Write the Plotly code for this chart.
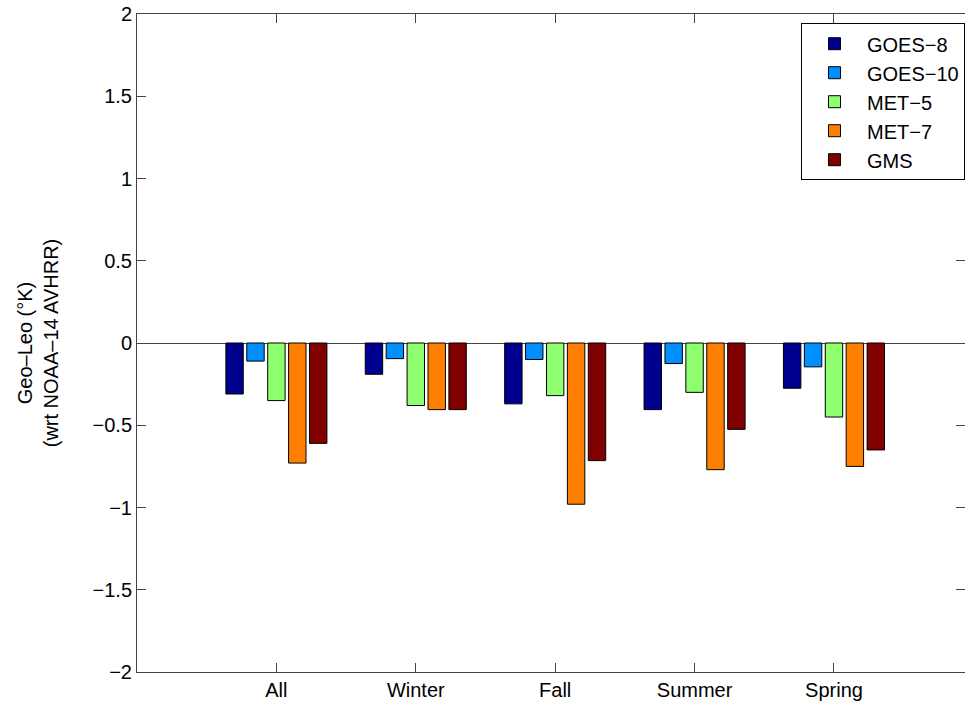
import plotly.graph_objects as go

categories = ["All", "Winter", "Fall", "Summer", "Spring"]
series_names = ["GOES-8", "GOES-10", "MET-5", "MET-7", "GMS"]
goes8 = [-0.31, -0.19, -0.37, -0.405, -0.275]
goes10 = [-0.11, -0.095, -0.10, -0.125, -0.145]
met5 = [-0.35, -0.38, -0.32, -0.30, -0.45]
met7 = [-0.73, -0.405, -0.98, -0.77, -0.75]
gms = [-0.61, -0.405, -0.715, -0.525, -0.65]
colors = ["rgb(0,0,143)", "rgb(0,143,255)", "rgb(143,255,112)", "rgb(255,128,0)", "rgb(128,0,0)"]
legend_labels = ["GOES\u22128", "GOES\u221210", "MET\u22125", "MET\u22127", "GMS"]

x_pos = [1, 2, 3, 4, 5]
all_series = [goes8, goes10, met5, met7, gms]

fig = go.Figure()
for name, vals, col in zip(legend_labels, all_series, colors):
    fig.add_trace(go.Bar(
        x=x_pos, y=vals, name=name,
        marker=dict(color=col, line=dict(color="black", width=1)),
    ))

font_family = "Liberation Sans, Arial, Helvetica, sans-serif"
fig.update_layout(
    width=965, height=708,
    margin=dict(l=137, r=0, t=14, b=36),
    paper_bgcolor="white", plot_bgcolor="white",
    barmode="group", bargap=0.25, bargroupgap=0.167,
    font=dict(family=font_family, size=20, color="black"),
    showlegend=True,
    legend=dict(
        x=1.0, y=0.986, xanchor="right", yanchor="top",
        bgcolor="white", bordercolor="black", borderwidth=1,
        font=dict(size=20), tracegroupgap=0, itemwidth=55,
    ),
    xaxis=dict(
        range=[0, 5.94], tickvals=x_pos, ticktext=categories,
        ticks="inside", ticklen=9, tickcolor="#444",
        showline=True, linecolor="#444", linewidth=1, mirror="ticks",
        showgrid=False, zeroline=False,
    ),
    yaxis=dict(
        range=[-2, 2], dtick=0.5, tick0=0,
        ticks="inside", ticklen=9, tickcolor="#444",
        showline=True, linecolor="#444", linewidth=1, mirror="ticks",
        showgrid=False, zeroline=True, zerolinecolor="#444", zerolinewidth=1,
        title=dict(text="Geo\u2013Leo (\u00b0K)<br>(wrt NOAA\u201314 AVHRR)", standoff=28,
                   font=dict(size=20)),
    ),
)

fig.write_html("out.html")
